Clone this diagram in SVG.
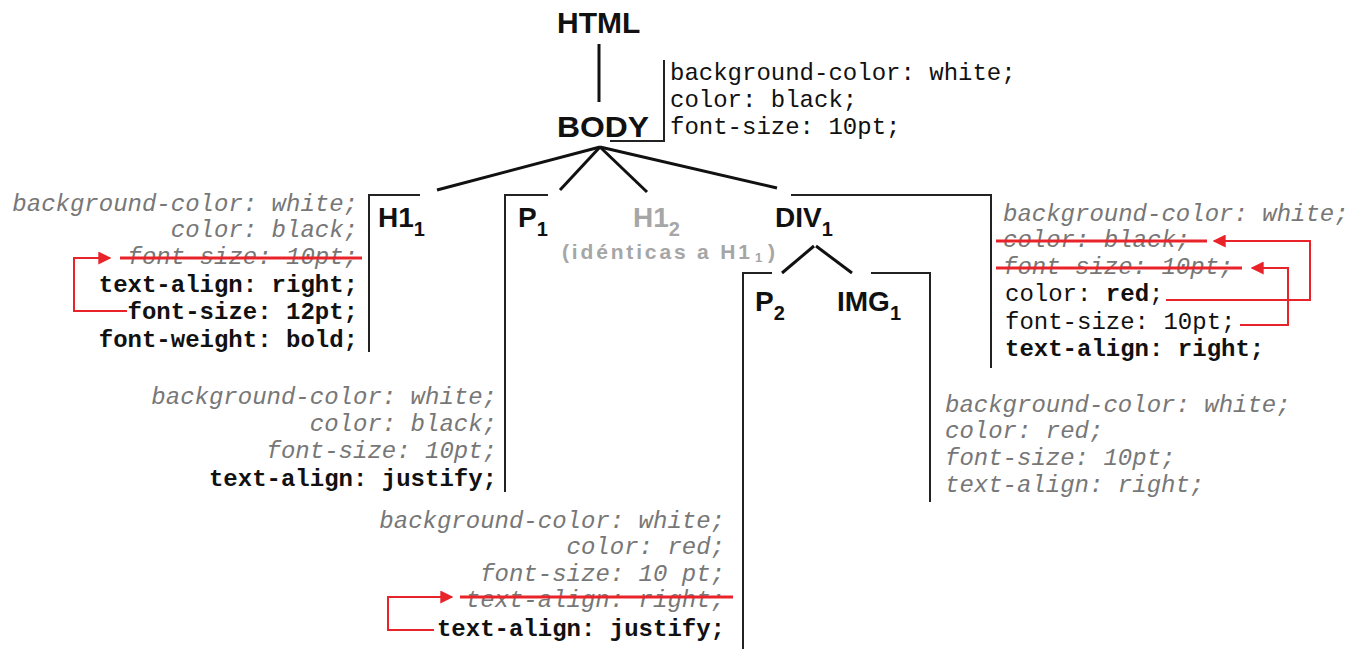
<svg xmlns="http://www.w3.org/2000/svg" width="1353" height="649" viewBox="0 0 1353 649">
<style>
.n{font-family:"Liberation Sans",Arial,sans-serif;font-weight:bold;fill:#111}
.big{font-size:30px}
.lbl{font-size:28px}
.sub{font-size:20px}
.g{fill:#a6a6a6}
.m{font-family:"Liberation Mono","Courier New",monospace;font-size:24px;fill:#111}
.i{font-style:italic;fill:#777}
.b{font-weight:bold}
.r{text-anchor:end}
.ln{stroke:#111;stroke-width:3;fill:none}
.br{stroke:#222;stroke-width:2;fill:none}
.red{stroke:#e8242a;stroke-width:2;fill:none}
.strike{stroke:#e8242a;stroke-width:3}
</style>
<defs>
<marker id="ah" viewBox="0 0 10 10" refX="9" refY="5" markerWidth="6.5" markerHeight="6.5" orient="auto" markerUnits="strokeWidth">
<path d="M0,0 L10,5 L0,10 z" fill="#e8242a"/>
</marker>
</defs>
<rect width="1353" height="649" fill="#fff"/>

<g id="connectors">
<line class="ln" x1="599" y1="44" x2="599" y2="102"/>
<line class="ln" x1="600" y1="147" x2="437" y2="190"/>
<line class="ln" x1="600" y1="147" x2="560" y2="190"/>
<line class="ln" x1="600" y1="147" x2="647" y2="192"/>
<line class="ln" x1="600" y1="147" x2="777" y2="188"/>
<line class="ln" x1="814" y1="246" x2="782" y2="273"/>
<line class="ln" x1="816" y1="246" x2="852" y2="273"/>
</g>

<g id="html"><text class="n big" x="557" y="33">HTML</text></g>

<g id="body">
<text class="n big" x="557" y="137" textLength="92" lengthAdjust="spacingAndGlyphs">BODY</text>
<path class="br" d="M610,141 H664 V60"/>
<text class="m" x="670" y="80">background-color: white;</text>
<text class="m" x="670" y="107">color: black;</text>
<text class="m" x="670" y="134">font-size: 10pt;</text>
</g>

<g id="h1_1">
<text class="n lbl" x="378" y="227">H1<tspan class="sub" dy="9">1</tspan></text>
<path class="br" d="M420,195 H369 V352"/>
<text class="m i r" x="358" y="211">background-color: white;</text>
<text class="m i r" x="358" y="237">color: black;</text>
<text class="m i r" x="358" y="264">font-size: 10pt;</text>
<line class="strike" x1="120" y1="258" x2="362" y2="258"/>
<text class="m b r" x="358" y="292">text-align: right;</text>
<text class="m b r" x="358" y="319">font-size: 12pt;</text>
<text class="m b r" x="358" y="347">font-weight: bold;</text>
<path class="red" d="M127,311 H74 V258 H110" marker-end="url(#ah)"/>
</g>

<g id="p1">
<text class="n lbl" x="518" y="227">P<tspan class="sub" dy="9">1</tspan></text>
<path class="br" d="M548,195 H505 V492"/>
<text class="m i r" x="497" y="404">background-color: white;</text>
<text class="m i r" x="497" y="431">color: black;</text>
<text class="m i r" x="497" y="458">font-size: 10pt;</text>
<text class="m b r" x="497" y="486">text-align: justify;</text>
</g>

<g id="h1_2">
<text class="n lbl g" x="633" y="227">H1<tspan class="sub" dy="9">2</tspan></text>
<text class="n g" font-size="21" x="562" y="259" textLength="188" lengthAdjust="spacing">(idénticas a H1</text>
<text class="n g" font-size="13" x="755" y="262">1</text>
<text class="n g" font-size="21" x="768" y="259">)</text>
</g>

<g id="div1">
<text class="n lbl" x="775" y="227">DIV<tspan class="sub" dy="9">1</tspan></text>
<path class="br" d="M791,195 H991 V368"/>
<text class="m i" x="1003" y="221">background-color: white;</text>
<text class="m i" x="1003" y="247">color: black;</text>
<line class="strike" x1="996" y1="241" x2="1207" y2="241"/>
<text class="m i" x="1003" y="274">font-size: 10pt;</text>
<line class="strike" x1="996" y1="268" x2="1242" y2="268"/>
<text class="m" x="1005" y="301">color: <tspan class="b">red</tspan>;</text>
<text class="m" x="1005" y="329">font-size: 10pt;</text>
<text class="m b" x="1005" y="356">text-align: right;</text>
<path class="red" d="M1166,300 H1310 V241 H1214" marker-end="url(#ah)"/>
<path class="red" d="M1240,325 H1288 V268 H1252" marker-end="url(#ah)"/>
</g>

<g id="p2">
<text class="n lbl" x="755" y="311">P<tspan class="sub" dy="9">2</tspan></text>
<path class="br" d="M772,273 H743 V649"/>
<text class="m i r" x="725" y="528">background-color: white;</text>
<text class="m i r" x="725" y="554">color: red;</text>
<text class="m i r" x="725" y="581">font-size: 10 pt;</text>
<text class="m i r" x="725" y="607">text-align: right;</text>
<line class="strike" x1="460" y1="597" x2="733" y2="597"/>
<text class="m b r" x="725" y="636">text-align: justify;</text>
<path class="red" d="M434,630 H388 V597 H452" marker-end="url(#ah)"/>
</g>

<g id="img1">
<text class="n lbl" x="837" y="311">IMG<tspan class="sub" dy="9">1</tspan></text>
<path class="br" d="M871,273 H930 V502"/>
<text class="m i" x="945" y="412">background-color: white;</text>
<text class="m i" x="945" y="438">color: red;</text>
<text class="m i" x="945" y="465">font-size: 10pt;</text>
<text class="m i" x="945" y="492">text-align: right;</text>
</g>
</svg>
